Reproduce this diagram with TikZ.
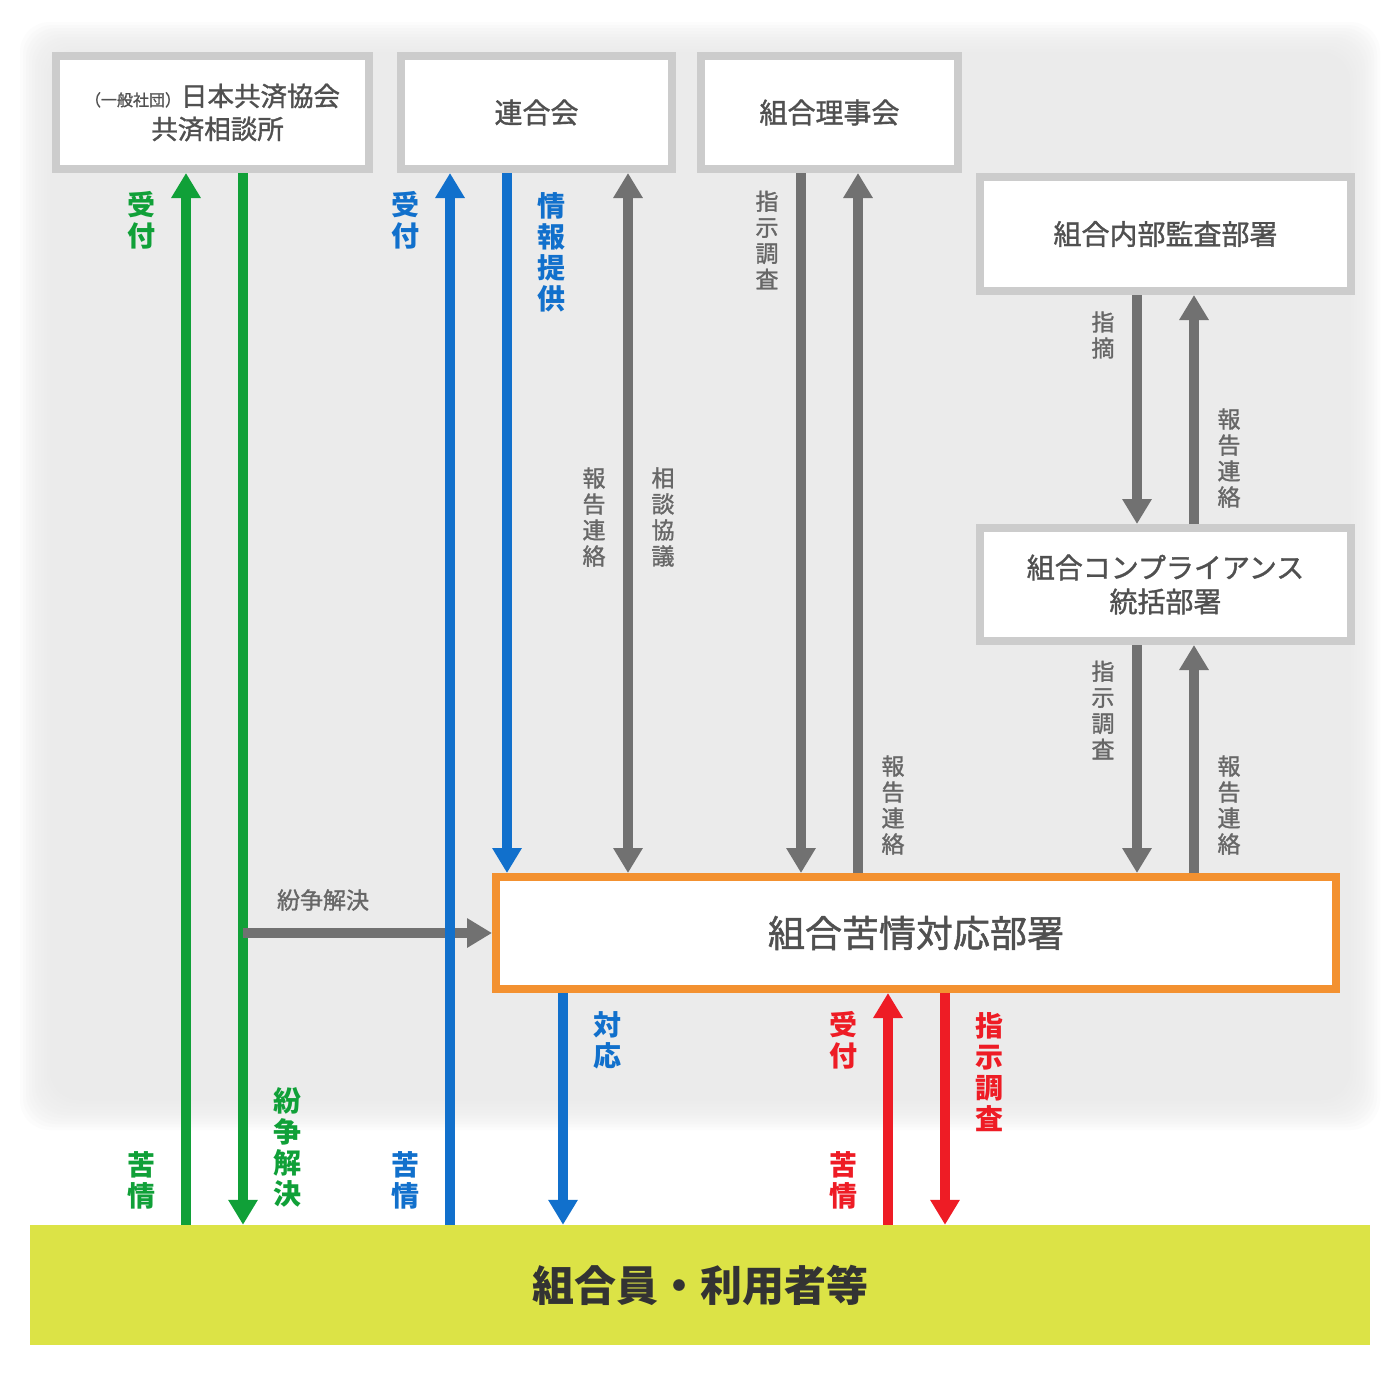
\documentclass[tikz,border=0pt]{standalone}
\usepackage{fontspec}
\setmainfont{Noto Sans CJK JP}
\newfontfamily\jpmed[FakeBold=1.3]{Noto Sans CJK JP}
\usetikzlibrary{arrows.meta}
\definecolor{grn}{HTML}{10A038}
\definecolor{blu}{HTML}{1170CC}
\definecolor{rd}{HTML}{EE1C25}
\definecolor{gar}{HTML}{717171}
\definecolor{bxb}{HTML}{CCCCCC}
\definecolor{org}{HTML}{F39130}
\definecolor{ylw}{HTML}{DCE346}
\definecolor{txt}{HTML}{505050}
\definecolor{lbl}{HTML}{676767}
\definecolor{bgc}{HTML}{EBEBEB}
\begin{document}
\begin{tikzpicture}[x=1pt,y=-1pt,
  box/.style={draw=bxb,line width=8pt,fill=white,text=txt,align=center,inner sep=0pt,
    font=\jpmed\fontsize{28}{34}\selectfont},
  arr/.style={line width=10pt,-{Triangle[width=28pt,length=25pt]}},
  darr/.style={line width=10pt,{Triangle[width=28pt,length=25pt]}-{Triangle[width=28pt,length=25pt]}},
  clab/.style={align=center,inner sep=0pt,font=\fontsize{28}{31}\selectfont\bfseries},
  glab/.style={align=center,inner sep=0pt,text=lbl,font=\jpmed\fontsize{23}{26}\selectfont},
]
\useasboundingbox (0,0) rectangle (1400,1376);
\fill[white] (0,0) rectangle (1400,1376);
% soft background
\foreach \i in {0,...,19}{
  \fill[bgc,opacity=0.15,rounded corners=30pt] ({20+3*\i},{22+3*\i}) rectangle ({1380-3*\i},{1130-3*\i});
}
% boxes
\node[box,minimum width=313pt,minimum height=113pt,font=\jpmed\fontsize{26.5}{33}\selectfont] (b1) at (212.5,112.5)
  {{\fontsize{16}{16}\selectfont （一般社団）}日本共済協会\\\hspace*{10pt}共済相談所};
\node[box,minimum width=271pt,minimum height=113pt] (b2) at (536.5,112.5) {連合会};
\node[box,minimum width=257pt,minimum height=113pt] (b3) at (829.5,112.5) {組合理事会};
\node[box,minimum width=371pt,minimum height=114pt] (b4) at (1165.5,234) {組合内部監査部署};
\node[box,minimum width=371pt,minimum height=113pt] (b5) at (1165.5,584.5) {組合コンプライアンス\\統括部署};
\node[box,draw=org,minimum width=840pt,minimum height=112pt,font=\jpmed\fontsize{37}{40}\selectfont] (b6) at (916,933) {組合苦情対応部署};
\node[fill=ylw,minimum width=1340pt,minimum height=120pt,inner sep=0pt,text=black!80,
  font=\fontsize{42}{46}\selectfont\bfseries] (yl) at (700,1285) {組合員・利用者等};
% green
\draw[arr,grn] (yl.north -| 186,0) -- (b1.south -| 186,0);
\draw[arr,grn] (b1.south -| 243,0) -- (yl.north -| 243,0);
\coordinate (gj) at (243,933);
\draw[arr,gar] (gj) -- (gj -| b6.west);
% blue
\draw[arr,blu] (yl.north -| 450,0) -- (b2.south -| 450,0);
\draw[arr,blu] (b2.south -| 507,0) -- (b6.north -| 507,0);
\draw[arr,blu] (b6.south -| 563,0) -- (yl.north -| 563,0);
% gray
\draw[darr,gar] (b2.south -| 628,0) -- (b6.north -| 628,0);
\draw[arr,gar] (b3.south -| 801,0) -- (b6.north -| 801,0);
\draw[arr,gar] (b6.north -| 858,0) -- (b3.south -| 858,0);
\draw[arr,gar] (b4.south -| 1137,0) -- (b5.north -| 1137,0);
\draw[arr,gar] (b5.north -| 1194,0) -- (b4.south -| 1194,0);
\draw[arr,gar] (b5.south -| 1137,0) -- (b6.north -| 1137,0);
\draw[arr,gar] (b6.north -| 1194,0) -- (b5.south -| 1194,0);
% red
\draw[arr,rd] (yl.north -| 888,0) -- (b6.south -| 888,0);
\draw[arr,rd] (b6.south -| 945,0) -- (yl.north -| 945,0);
% labels
\node[clab,text=grn] (l1) at (141,220) {受\\付};
\node[clab,text=grn] (l2) at (141,1180) {苦\\情};
\node[clab,text=grn] (l3) at (287,1147) {紛\\争\\解\\決};
\node[clab,text=blu] (l4) at (405,220) {受\\付};
\node[clab,text=blu] (l5) at (405,1180) {苦\\情};
\node[clab,text=blu] (l6) at (551,252) {情\\報\\提\\供};
\node[clab,text=blu] (l7) at (607,1040) {対\\応};
\node[clab,text=rd] (l8) at (843,1040) {受\\付};
\node[clab,text=rd] (l9) at (843,1180) {苦\\情};
\node[clab,text=rd] (l10) at (989,1072) {指\\示\\調\\査};
\node[glab] (g1) at (594,517) {報\\告\\連\\絡};
\node[glab] (g2) at (663,517) {相\\談\\協\\議};
\node[glab] (g3) at (767,240) {指\\示\\調\\査};
\node[glab] (g4) at (893,805) {報\\告\\連\\絡};
\node[glab] (g5) at (1103,335) {指\\摘};
\node[glab] (g6) at (1229,458) {報\\告\\連\\絡};
\node[glab] (g7) at (1103,710) {指\\示\\調\\査};
\node[glab] (g8) at (1229,805) {報\\告\\連\\絡};
\node[glab] (g9) at (323,900) {紛争解決};
\end{tikzpicture}
\end{document}
